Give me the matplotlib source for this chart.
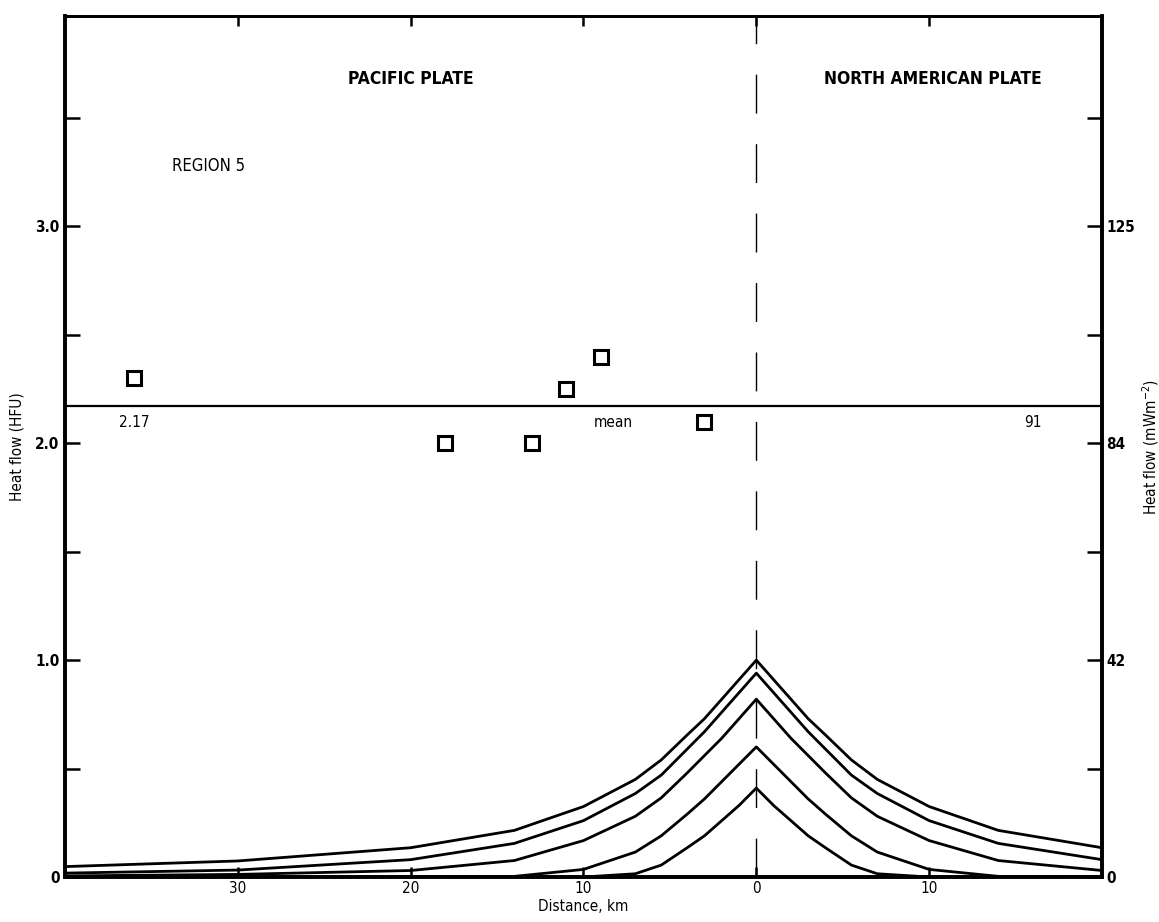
import matplotlib
matplotlib.use("Agg")
import matplotlib.pyplot as plt
import numpy as np

# ---- data ----
dist_nodes = [0, 1, 2, 3, 4, 5.5, 7, 10, 14, 20, 30, 40]   # |distance| km
curve1 = [1.00, 0.91, 0.82, 0.73, 0.655, 0.54, 0.45, 0.325, 0.215, 0.135, 0.074, 0.048]
curve2 = [0.94, 0.85, 0.76, 0.67, 0.59, 0.47, 0.385, 0.26, 0.155, 0.08, 0.032, 0.018]
curve3 = [0.82, 0.73, 0.64, 0.56, 0.48, 0.365, 0.28, 0.168, 0.076, 0.03, 0.012, 0.005]
curve4 = [0.60, 0.52, 0.44, 0.36, 0.29, 0.19, 0.115, 0.035, 0.003, 0.0, 0.0, 0.0]
curve5 = [0.41, 0.33, 0.26, 0.19, 0.135, 0.055, 0.015, 0.0, 0.0, 0.0, 0.0, 0.0]
curves = [curve1, curve2, curve3, curve4, curve5]

obs_dist = [36, 18, 13, 11, 9, 3]          # km (Pacific side positive)
obs_hfu = [2.30, 2.00, 2.00, 2.25, 2.40, 2.10]
mean_hfu = 2.17
mean_label_left = "2.17"
mean_label_right = "91"

x_ticks = [30, 20, 10, 0, -10]
x_ticklabels = ["30", "20", "10", "0", "10"]
y_ticks_major = [0, 1.0, 2.0, 3.0]
y_ticklabels_left = ["0", "1.0", "2.0", "3.0"]
y_ticklabels_right = ["0", "42", "84", "125"]
y_ticks_minor = [0.5, 1.5, 2.5, 3.5]

plt.rcParams['font.family'] = ["DejaVu Sans"]
plt.rcParams['font.stretch'] = "condensed"
COND = dict(fontstretch="condensed")

fig = plt.figure(figsize=(11.59, 9.22), dpi=100)
ax = fig.add_axes([0.0561, 0.0488, 0.8947, 0.9338])

# model curves, symmetric about the fault
xd = np.array(dist_nodes, dtype=float)
x_full = np.concatenate([-xd[::-1], xd[1:]])
for c in curves:
    c = np.array(c)
    y_full = np.concatenate([c[::-1], c[1:]])
    ax.plot(x_full, y_full, color="black", lw=2.0, solid_joinstyle="round")

# mean line
ax.axhline(mean_hfu, color="black", lw=1.6)
ax.text(36, mean_hfu - 0.04, mean_label_left, ha="center", va="top", fontsize=11, **COND)
ax.text(8.3, mean_hfu - 0.04, "mean", ha="center", va="top", fontsize=11, **COND)
ax.text(-16, mean_hfu - 0.04, mean_label_right, ha="center", va="top", fontsize=11, **COND)

# fault line
ax.axvline(0, color="black", lw=1.0, dashes=(28, 22))

# observations
ax.plot(obs_dist, obs_hfu, linestyle="none", marker="s", markersize=10,
        markerfacecolor="white", markeredgecolor="black", markeredgewidth=2.2)

# texts
ax.text(20, 3.68, "PACIFIC PLATE", ha="center", va="center", fontsize=12.5,
        fontweight="bold", **COND)
ax.text(-10.2, 3.68, "NORTH AMERICAN PLATE", ha="center", va="center", fontsize=12.5,
        fontweight="bold", **COND)
ax.text(33.8, 3.28, "REGION 5", ha="left", va="center", fontsize=12, **COND)

ax.set_xlim(40, -20)
ax.set_ylim(0, 3.97)

ax.set_xticks(x_ticks)
ax.set_xticklabels(x_ticklabels, fontsize=11, **COND)
ax.set_yticks(y_ticks_major)
ax.set_yticklabels(y_ticklabels_left, fontsize=11, fontweight="bold", **COND)
ax.set_yticks(y_ticks_minor, minor=True)
ax.tick_params(axis="both", which="both", direction="in", width=1.8)
ax.tick_params(axis="y", which="both", length=11, pad=4, right=True)
ax.tick_params(axis="x", which="both", length=7, pad=3, top=True)

ax2 = ax.twinx()
ax2.set_ylim(ax.get_ylim())
ax2.set_yticks(y_ticks_major)
ax2.set_yticklabels(y_ticklabels_right, fontsize=11, fontweight="bold", **COND)
ax2.set_yticks(y_ticks_minor, minor=True)
ax2.tick_params(axis="y", which="both", direction="in", length=11, width=1.8, pad=3)

for s in ["left", "bottom", "right"]:
    ax.spines[s].set_linewidth(2.6)
    ax2.spines[s].set_linewidth(2.6)
ax.spines["top"].set_linewidth(2.0)
ax2.spines["top"].set_linewidth(2.0)

ax.set_xlabel("Distance, km", fontsize=11, labelpad=2, **COND)
ax.set_ylabel("Heat flow (HFU)", fontsize=11, labelpad=8, **COND)
ax2.set_ylabel("Heat flow (mWm$^{-2}$)", fontsize=11, labelpad=4, **COND)

fig.savefig("out.png", dpi=100)
